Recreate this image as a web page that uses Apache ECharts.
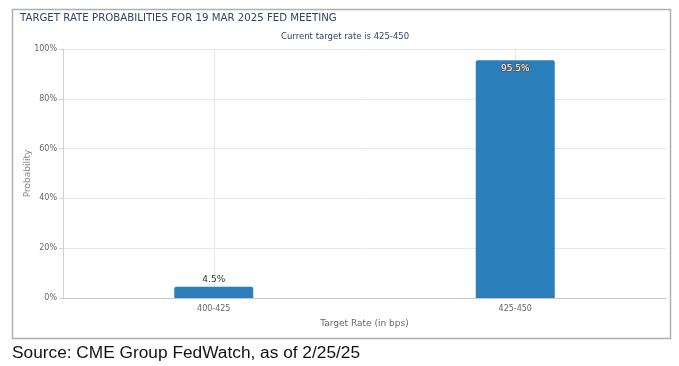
<!DOCTYPE html>
<html><head><meta charset="utf-8">
<script src="https://cdn.jsdelivr.net/npm/echarts@6/dist/echarts.min.js"></script>
<style>html,body{margin:0;padding:0;background:#fff}#c{width:679px;height:366px}</style>
</head><body><div id="c"></div>
<script>
var categories = ['400-425', '425-450'];
var probabilities = [4.5, 95.5];
var yTicks = [0, 20, 40, 60, 80, 100];
var titleText = 'TARGET RATE PROBABILITIES FOR 19 MAR 2025 FED MEETING';
var subtitleText = 'Current target rate is 425-450';
var sourceText = 'Source: CME Group FedWatch, as of 2/25/25';

var chart = echarts.init(document.getElementById('c'));
var lblColor = '#666';
chart.setOption({
  animation: false,
  backgroundColor: '#fff',
  graphic: [
    {type: 'rect', shape: {x: 12.5, y: 9.5, width: 658, height: 329}, style: {fill: 'none', stroke: '#b0b0b0', lineWidth: 1.5}, silent: true},
    {type: 'text', left: 20, top: 13, style: {text: titleText, fill: '#334466', font: '10.2px "DejaVu Sans"'}},
    {type: 'text', left: 281, top: 32, style: {text: subtitleText, fill: '#334466', font: '8.5px "DejaVu Sans"'}},
    {type: 'text', left: 12, top: 345, style: {text: sourceText, fill: '#111', font: '17.3px "Liberation Sans"'}}
  ],
  grid: {left: 63, right: 13, top: 49, bottom: 68},
  xAxis: [{
    type: 'category', data: categories,
    name: 'Target Rate (in bps)', nameLocation: 'middle', nameGap: 21,
    nameTextStyle: {color: lblColor, fontSize: 9, fontFamily: 'DejaVu Sans'},
    axisLine: {lineStyle: {color: '#c8c8c8'}},
    axisTick: {show: false},
    axisLabel: {color: lblColor, fontSize: 8, fontFamily: 'DejaVu Sans', margin: 7},
    splitLine: {show: false}
  }, {
    type: 'category', data: ['a', 'b', 'c', 'd'], position: 'top',
    axisLine: {show: false}, axisTick: {show: false}, axisLabel: {show: false},
    splitLine: {show: true, showMaxLine: false,
      interval: function (i) { return i === 1 || i === 3; }, lineStyle: {color: '#e8e8e8'}}
  }],
  yAxis: {
    type: 'value', min: 0, max: 100, interval: 20,
    name: 'Probability', nameLocation: 'middle', nameGap: 31, nameMoveOverlap: false,
    nameTextStyle: {color: '#888', fontSize: 9, fontFamily: 'DejaVu Sans'},
    axisLine: {show: true, lineStyle: {color: '#d0d0d0'}},
    axisTick: {show: true, length: 4, lineStyle: {color: '#d0d0d0'}},
    axisLabel: {color: lblColor, fontSize: 8, fontFamily: 'DejaVu Sans', margin: 6,
      formatter: function (v) { return yTicks.indexOf(v) >= 0 ? v + '%' : ''; }},
    splitLine: {lineStyle: {color: '#e8e8e8'}}
  },
  series: [
    {
      type: 'bar', z: 3, xAxisIndex: 0,
      data: probabilities.map(function (v, i) {
        return {
          value: v,
          label: i === 1 ? {position: 'insideTop', distance: 4, color: '#fff', textBorderColor: '#555', textBorderWidth: 1.5} :
                           {position: 'top', distance: 3, color: '#333', textBorderWidth: 0}
        };
      }),
      barWidth: 79,
      itemStyle: {color: '#2a7fba', borderRadius: [2, 2, 0, 0]},
      label: {show: true, fontSize: 9, fontFamily: 'DejaVu Sans', formatter: function (p) { return p.value + '%'; }}
    }
  ]
});
</script></body></html>
